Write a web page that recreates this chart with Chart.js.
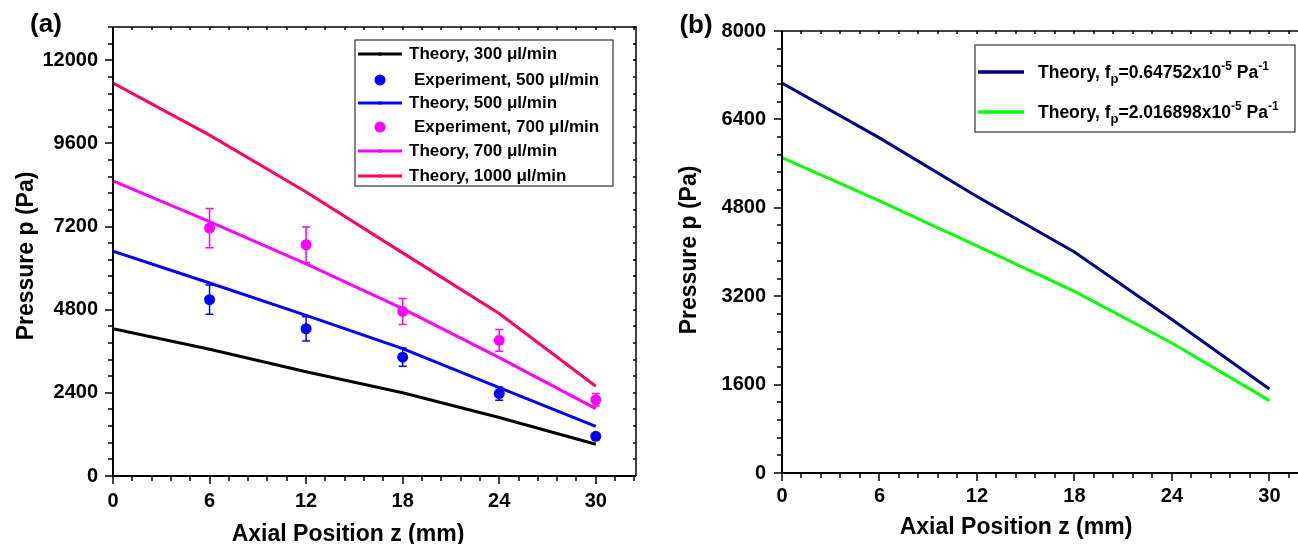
<!DOCTYPE html>
<html>
<head>
<meta charset="utf-8">
<script src="https://cdn.jsdelivr.net/npm/chart.js@4"></script>
<style>
  html, body { margin: 0; padding: 0; background: #fff; overflow: hidden; width: 1298px; height: 544px; }
  #wrapA { position: absolute; left: 0; top: 0; width: 650px; height: 544px; }
  #wrapB { position: absolute; left: 650px; top: 0; width: 662px; height: 544px; }
</style>
</head>
<body>
<div id="wrapA"><canvas id="chartA" width="650" height="544"></canvas></div>
<div id="wrapB"><canvas id="chartB" width="662" height="544"></canvas></div>
<script>
const FONT = '"Liberation Sans", Arial, sans-serif';

// panel (a)
const zPos = [0, 6, 12, 18, 24, 30];
const theory300 = [4250, 3660, 3010, 2405, 1690, 915];
const theory500 = [6490, 5570, 4635, 3675, 2550, 1435];
const theory700 = [8520, 7340, 6125, 4830, 3415, 1945];
const theory1000 = [11340, 9840, 8200, 6440, 4690, 2590];
const expZ = [6, 12, 18, 24, 30];
const exp500 = [5090, 4250, 3430, 2380, 1145];
const exp500Err = [420, 350, 265, 190, 80];
const exp700 = [7155, 6675, 4750, 3915, 2200];
const exp700Err = [565, 515, 375, 317, 183];

// panel (b)
const theoryFpLow = [7060, 6065, 5005, 4000, 2780, 1520];   // fp = 0.64752e-5
const theoryFpHigh = [5710, 4925, 4110, 3287, 2353, 1310];  // fp = 2.016898e-5

const xTicks = [0, 6, 12, 18, 24, 30];
const yTicksA = [0, 2400, 4800, 7200, 9600, 12000];
const yTicksB = [0, 1600, 3200, 4800, 6400, 8000];

const xy = (xs, ys) => xs.map((x, i) => ({ x, y: ys[i] }));
const bold = (size) => `bold ${size}px ${FONT}`;

// axes box with major/minor ticks (Origin style)
function framePlugin(minorX, minorY, rightAxis) {
  return {
    id: 'frame',
    afterDraw(chart) {
      const { ctx, chartArea: a, scales: { x, y } } = chart;
      ctx.save();
      ctx.strokeStyle = '#000';
      ctx.lineWidth = 1.5;
      ctx.beginPath();
      ctx.moveTo(a.left, a.top);
      ctx.lineTo(a.right, a.top);
      if (rightAxis) ctx.lineTo(a.right, a.bottom);
      ctx.stroke();
      ctx.lineWidth = 2;
      ctx.beginPath();
      ctx.moveTo(a.left, a.top);
      ctx.lineTo(a.left, a.bottom);
      ctx.lineTo(a.right, a.bottom);
      ctx.stroke();

      ctx.lineWidth = 1.5;
      ctx.beginPath();
      for (let i = 0; i * minorX <= x.max + 1e-6; i++) {
        const px = Math.round(x.getPixelForValue(i * minorX));
        const len = i % 5 === 0 ? 8 : 5;
        ctx.moveTo(px, a.bottom);
        ctx.lineTo(px, a.bottom + len);
        ctx.moveTo(px, a.top);
        ctx.lineTo(px, a.top + 3);
      }
      for (let i = 0; i * minorY <= y.max + 1e-6; i++) {
        const py = Math.round(y.getPixelForValue(i * minorY));
        const len = i % 5 === 0 ? 8 : 5;
        ctx.moveTo(a.left, py);
        ctx.lineTo(a.left - len, py);
        if (rightAxis) {
          ctx.moveTo(a.right, py);
          ctx.lineTo(a.right - 3, py);
        }
      }
      ctx.stroke();
      ctx.restore();
    }
  };
}

const errorBarPlugin = {
  id: 'errorBars',
  afterDatasetsDraw(chart) {
    const { ctx, scales: { x, y } } = chart;
    chart.data.datasets.forEach((ds) => {
      if (!ds.errors) return;
      ctx.save();
      ctx.strokeStyle = ds.borderColor;
      ctx.lineWidth = 1.5;
      ds.data.forEach((p, i) => {
        const px = x.getPixelForValue(p.x);
        const top = y.getPixelForValue(p.y + ds.errors[i]);
        const bot = y.getPixelForValue(p.y - ds.errors[i]);
        ctx.beginPath();
        ctx.moveTo(px, top); ctx.lineTo(px, bot);
        ctx.moveTo(px - 4, top); ctx.lineTo(px + 4, top);
        ctx.moveTo(px - 4, bot); ctx.lineTo(px + 4, bot);
        ctx.stroke();
      });
      ctx.restore();
    });
  }
};

function drawText(ctx, text, x, y, font, align, rot) {
  ctx.save();
  ctx.translate(x, y);
  if (rot) ctx.rotate(rot);
  ctx.font = font;
  ctx.fillStyle = '#000';
  ctx.textAlign = align || 'center';
  ctx.textBaseline = 'middle';
  ctx.fillText(text, 0, 0);
  ctx.restore();
}

const decorA = {
  id: 'decorA',
  afterDraw(chart) {
    const ctx = chart.ctx;
    drawText(ctx, '(a)', 46, 25, bold(26));
    drawText(ctx, 'Pressure p (Pa)', 27, 256, bold(23), 'center', -Math.PI / 2);
    drawText(ctx, 'Axial Position z (mm)', 348, 535, bold(23));

    // legend
    ctx.save();
    ctx.strokeStyle = '#333';
    ctx.lineWidth = 1.2;
    ctx.strokeRect(355, 40, 258, 146);
    const rows = [54, 80, 103, 127, 151, 176];
    chart.data.datasets.forEach((ds, i) => {
      const ry = rows[i];
      if (ds.showLine === false) {
        ctx.fillStyle = ds.backgroundColor;
        ctx.beginPath();
        ctx.arc(380, ry, 5.5, 0, Math.PI * 2);
        ctx.fill();
        drawText(ctx, ds.label, 414, ry, bold(17), 'left');
      } else {
        ctx.strokeStyle = ds.borderColor;
        ctx.lineWidth = 3;
        ctx.beginPath();
        ctx.moveTo(358, ry); ctx.lineTo(402, ry);
        ctx.stroke();
        ctx.fillStyle = ds.borderColor;
        ctx.fillRect(378.5, ry - 1.5, 3, 3);
        drawText(ctx, ds.label, 409, ry, bold(17), 'left');
      }
    });
    ctx.restore();
  }
};

function drawRich(ctx, parts, x, y) {
  // parts: [text, size, dy]
  ctx.save();
  ctx.fillStyle = '#000';
  ctx.textAlign = 'left';
  ctx.textBaseline = 'alphabetic';
  let cx = x;
  parts.forEach(([t, size, dy]) => {
    ctx.font = bold(size);
    ctx.fillText(t, cx, y + dy);
    cx += ctx.measureText(t).width;
  });
  ctx.restore();
}

const decorB = {
  id: 'decorB',
  afterDraw(chart) {
    const ctx = chart.ctx;
    drawText(ctx, '(b)', 46, 26, bold(26));
    drawText(ctx, 'Pressure p (Pa)', 40, 250, bold(23), 'center', -Math.PI / 2);
    drawText(ctx, 'Axial Position z (mm)', 366, 528, bold(23));

    ctx.save();
    ctx.strokeStyle = '#333';
    ctx.lineWidth = 1.2;
    ctx.strokeRect(325, 45, 320, 87);
    const rows = [72, 112];
    const texts = [
      [['Theory, f', 17.5, 0], ['p', 13, 5], ['=0.64752x10', 17.5, 0], ['-5', 12, -8], [' Pa', 17.5, 0], ['-1', 12, -8]],
      [['Theory, f', 17.5, 0], ['p', 13, 5], ['=2.016898x10', 17.5, 0], ['-5', 12, -8], [' Pa', 17.5, 0], ['-1', 12, -8]]
    ];
    chart.data.datasets.forEach((ds, i) => {
      const ry = rows[i];
      ctx.strokeStyle = ds.borderColor;
      ctx.lineWidth = 3.5;
      ctx.beginPath();
      ctx.moveTo(328, ry); ctx.lineTo(374, ry);
      ctx.stroke();
      drawRich(ctx, texts[i], 388, ry + 6);
    });
    ctx.restore();
  }
};

function axisOptions(min, max, tickValues, fit, padding) {
  return {
    type: 'linear',
    min, max,
    afterBuildTicks: (s) => { s.ticks = tickValues.map(v => ({ value: v })); },
    afterFit: fit,
    grid: { display: false },
    border: { display: false },
    ticks: {
      color: '#000',
      padding,
      autoSkip: false,
      maxRotation: 0,
      callback: (v) => String(v),
      font: { family: FONT, size: 20, weight: 'bold' }
    }
  };
}

const chartA = new Chart(document.getElementById('chartA'), {
  type: 'line',
  data: {
    datasets: [
      { label: 'Theory, 300 \u03bcl/min', data: xy(zPos, theory300), borderColor: '#000000', backgroundColor: '#000000' },
      { label: 'Experiment, 500 \u03bcl/min', data: xy(expZ, exp500), errors: exp500Err, showLine: false,
        pointRadius: 5.5, borderColor: '#0000FF', backgroundColor: '#0000FF' },
      { label: 'Theory, 500 \u03bcl/min', data: xy(zPos, theory500), borderColor: '#0000FF', backgroundColor: '#0000FF' },
      { label: 'Experiment, 700 \u03bcl/min', data: xy(expZ, exp700), errors: exp700Err, showLine: false,
        pointRadius: 5.5, borderColor: '#FF00FF', backgroundColor: '#FF00FF' },
      { label: 'Theory, 700 \u03bcl/min', data: xy(zPos, theory700), borderColor: '#FF00FF', backgroundColor: '#FF00FF' },
      { label: 'Theory, 1000 \u03bcl/min', data: xy(zPos, theory1000), borderColor: '#FF0066', backgroundColor: '#FF0066' }
    ]
  },
  options: {
    responsive: false,
    animation: false,
    layout: { padding: { top: 27, right: 14, left: 0, bottom: 0 } },
    elements: { line: { tension: 0, borderWidth: 3 }, point: { radius: 0, borderWidth: 0 } },
    plugins: { legend: { display: false }, tooltip: { enabled: false } },
    scales: {
      x: axisOptions(0, 32.5, xTicks, (s) => { s.height = 68; }, 5),
      y: axisOptions(0, 12960, yTicksA, (s) => { s.width = 113; }, 7)
    }
  },
  plugins: [errorBarPlugin, framePlugin(1.2, 480, true), decorA]
});

const chartB = new Chart(document.getElementById('chartB'), {
  type: 'line',
  data: {
    datasets: [
      { label: 'fp = 0.64752e-5', data: xy(zPos, theoryFpLow), borderColor: '#000080' },
      { label: 'fp = 2.016898e-5', data: xy(zPos, theoryFpHigh), borderColor: '#00FF00' }
    ]
  },
  options: {
    responsive: false,
    animation: false,
    layout: { padding: { top: 31, right: 2, left: 0, bottom: 0 } },
    elements: { line: { tension: 0, borderWidth: 3 }, point: { radius: 0 } },
    plugins: { legend: { display: false }, tooltip: { enabled: false } },
    scales: {
      x: axisOptions(0, 32.5, xTicks, (s) => { s.height = 71; }, 3),
      y: axisOptions(0, 8000, yTicksB, (s) => { s.width = 132; }, 8)
    }
  },
  plugins: [framePlugin(1.2, 320, false), decorB]
});
</script>
</body>
</html>
